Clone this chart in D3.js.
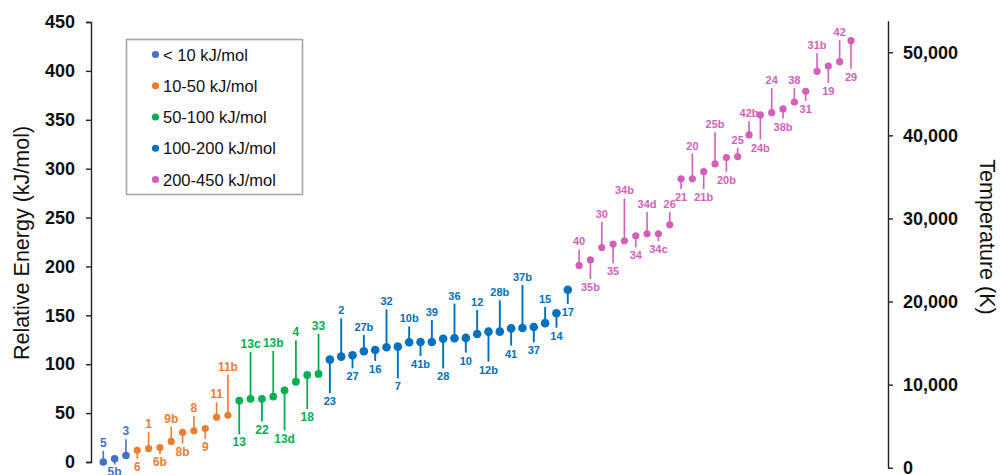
<!DOCTYPE html>
<html>
<head>
<meta charset="utf-8">
<script src="https://cdn.jsdelivr.net/npm/d3@7"></script>
<style>
  html, body { margin: 0; padding: 0; background: #fff; }
  svg { display: block; font-family: Arial, "Liberation Sans", sans-serif; }
</style>
</head>
<body>
<svg id="chart" width="1000" height="475"></svg>
<script>
// Species, ordered by relative energy
const species = ["5","5b","3","6","1","6b","9b","8b","8","9","11","11b",
  "13","13c","22","13b","13d","4","18","33",
  "23","2","27","27b","16","32","7","10b","41b","39","28","36","10","12","12b","28b","41","37b","37","15","14","17",
  "40","35b","30","35","34b","34","34d","34c","26","21","20","21b","25b","20b","25","42b","24b","24","38b","38","31","31b","19","42","29"];

// Relative energy of each species (kJ/mol)
const energy = [0,3.3,6.6,12,13.8,14.8,21,30.4,31.9,34.2,45.8,47.8,
  62.8,64.6,64.6,66.9,73.3,82.2,89.1,90.1,
  104.7,107.8,109.1,113.2,114.6,117.3,118,122.4,122.8,122.8,126.1,126.5,126.9,130.9,133.3,133.3,136.7,137.1,138.1,142,152.2,176.2,
  201,206.8,219.4,222.9,226.3,231.4,233.4,233.4,242.6,289.6,289.6,297,304.9,311.3,312.4,334.5,355,357.3,361.1,368.2,379.2,399.6,405,409.4,430.9];

// Energy level (kJ/mol) at which each species' tag is written
const labelLevel = [19.6,-10.7,31.5,-4.9,39,-0.2,44.4,10.7,55.4,15.5,69.3,97.3,
  20.2,120.7,33.2,121.8,24,132.6,45.8,139.4,
  62.1,155.1,87.6,138.1,95.2,164.3,77.4,146.9,100.3,153.4,87.6,170.1,103.7,163.7,94.5,173.5,110.8,189.2,114.2,166.7,129.2,153.4,
  225.6,179,253.9,194.9,277.7,211.3,263.8,217.8,263.8,270.9,323.6,270.9,345.3,288.6,329.5,356.7,321.6,390.7,343,390.7,361.1,426.5,379.5,439.5,394.1];

// Energy bands
const bandNames = ["< 10 kJ/mol","10-50 kJ/mol","50-100 kJ/mol","100-200 kJ/mol","200-450 kJ/mol"];
const bandUpper = [10, 50, 100, 200, 450];
const bandColors = ["#4472C4","#ED7D31","#00B050","#0070C0","#D45FB8"];

// Axis ticks
const energyTicks = [0,50,100,150,200,250,300,350,400,450];
const temperatureTicks = [0,10000,20000,30000,40000,50000];

const svg = d3.select("#chart");

const x = d3.scalePoint().domain(species).range([103.3, 851]);
const y = d3.scaleLinear().domain([0, 450]).range([462, 22]);
const yT = d3.scaleLinear().domain([0, 53800]).range([467.7, 20.7]);

const bandOf = v => bandUpper.findIndex(u => v < u);
const bandStyle = [
  {r: 3.8, w: 1.6, fs: 12},
  {r: 3.6, w: 1.6, fs: 12},
  {r: 3.9, w: 1.8, fs: 12},
  {r: 4.3, w: 1.9, fs: 11},
  {r: 3.6, w: 1.6, fs: 11}
];

const rows = species.map((s, i) => ({name: s, e: energy[i], lab: labelLevel[i], band: bandOf(energy[i])}));

// Left axis: relative energy
const gL = svg.append("g").attr("transform", "translate(91,0)")
  .call(d3.axisLeft(y).tickValues(energyTicks).tickSize(5).tickSizeOuter(5).tickPadding(11));
gL.selectAll("text").style("font-size", "18px").style("font-weight", "bold").attr("fill", "#111");
gL.selectAll("line, path").attr("stroke", "#222").attr("stroke-width", 1.4);

// Right axis: temperature
const gR = svg.append("g").attr("transform", "translate(888,0)")
  .call(d3.axisRight(yT).tickValues(temperatureTicks).tickSize(5).tickSizeOuter(0).tickPadding(10).tickFormat(d3.format(",")));
gR.selectAll("text").style("font-size", "18px").style("font-weight", "bold").attr("fill", "#111");
gR.selectAll("line, path").attr("stroke", "#222").attr("stroke-width", 1.4);

// Axis titles
svg.append("text")
  .attr("transform", "translate(29,243) rotate(-90)")
  .attr("text-anchor", "middle")
  .style("font-size", "21.5px").attr("fill", "#111")
  .text("Relative Energy (kJ/mol)");
svg.append("text")
  .attr("transform", "translate(980,237) rotate(90)")
  .attr("text-anchor", "middle")
  .style("font-size", "21.5px").attr("fill", "#111")
  .text("Temperature (K)");

// Leader stems from each point to its tag
const gap = 8;
svg.append("g").selectAll("line").data(rows).join("line")
  .attr("x1", d => x(d.name)).attr("x2", d => x(d.name))
  .attr("y1", d => y(d.e))
  .attr("y2", d => d.lab > d.e ? y(d.lab) + gap : y(d.lab) - gap)
  .attr("stroke", d => bandColors[d.band])
  .attr("stroke-width", d => bandStyle[d.band].w);

// Points
svg.append("g").selectAll("circle").data(rows).join("circle")
  .attr("cx", d => x(d.name)).attr("cy", d => y(d.e))
  .attr("r", d => bandStyle[d.band].r)
  .attr("fill", d => bandColors[d.band]);

// Tags
svg.append("g").selectAll("text").data(rows).join("text")
  .attr("x", d => x(d.name)).attr("y", d => y(d.lab))
  .attr("text-anchor", "middle").attr("dominant-baseline", "central")
  .style("font-size", d => bandStyle[d.band].fs + "px").style("font-weight", "bold")
  .attr("fill", d => bandColors[d.band])
  .text(d => d.name);

// Legend
const legend = svg.append("g");
legend.append("rect")
  .attr("x", 126.5).attr("y", 39.5).attr("width", 176).attr("height", 155)
  .attr("fill", "#fff").attr("stroke", "#A6A6A6").attr("stroke-width", 1.6);
const legendY = d3.scalePoint().domain(bandNames).range([54.5, 179.5]);
const items = legend.selectAll("g.item").data(bandNames).join("g").attr("class", "item")
  .attr("transform", d => `translate(155.5,${legendY(d)})`);
items.append("circle").attr("r", 3.6).attr("fill", (d, i) => bandColors[i]);
items.append("text").attr("x", 7.5).attr("dominant-baseline", "central")
  .style("font-size", "16.5px").attr("fill", "#111").text(d => d);
</script>
</body>
</html>
